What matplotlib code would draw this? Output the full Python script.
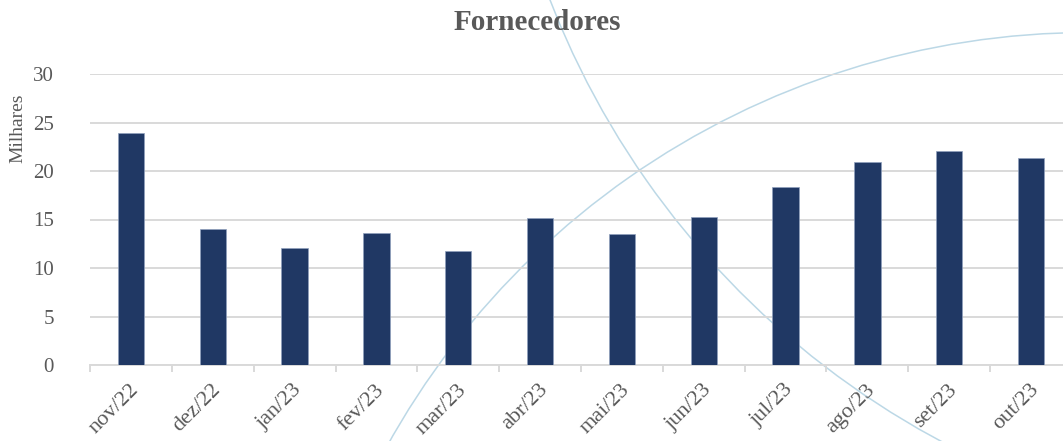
import matplotlib
matplotlib.use("Agg")
import matplotlib.pyplot as plt
from matplotlib.patches import Arc
from matplotlib.transforms import ScaledTranslation
import numpy as np

categories = ["nov/22", "dez/22", "jan/23", "fev/23", "mar/23", "abr/23",
              "mai/23", "jun/23", "jul/23", "ago/23", "set/23", "out/23"]
values = [23.9, 14.0, 12.1, 13.6, 11.75, 15.15, 13.5, 15.25, 18.35, 20.95, 22.1, 21.3]
yticks = [0, 5, 10, 15, 20, 25, 30]

TXT = "#595959"
BAR = "#203864"
GRID = "#d9d9d9"
ARC = "#bcd8e6"

plt.rcParams["font.family"] = ["Liberation Serif", "DejaVu Serif"]

W, H = 1063, 441
fig = plt.figure(figsize=(W / 100, H / 100), dpi=100)

# background decorative arcs in pixel coordinates
bg = fig.add_axes([0, 0, 1, 1], zorder=0)
bg.set_xlim(0, W)
bg.set_ylim(0, H)
bg.axis("off")
bg.add_patch(Arc((1089, -394), 2 * 802.5, 2 * 802.5, theta1=90, theta2=160,
                 color=ARC, lw=1.1))
bg.add_patch(Arc((1341, 748), 2 * 848.5, 2 * 848.5, theta1=180, theta2=250,
                 color=ARC, lw=1.1))

ax = fig.add_axes([90 / W, (H - 365) / H, 982 / W, 291 / H], zorder=1)
ax.patch.set_alpha(0)
x = np.arange(len(categories))
ax.bar(x, values, width=0.32, color=BAR, edgecolor="#8fa0bd", linewidth=0.5, zorder=3)

ax.set_xlim(-0.5, len(categories) - 0.5)
ax.set_ylim(0, 30)
ax.set_yticks(yticks)
ax.yaxis.grid(True, color=GRID, linewidth=1.4, zorder=0)
ax.set_axisbelow(True)
for s in ["top", "right", "left"]:
    ax.spines[s].set_visible(False)
ax.spines["bottom"].set_color(GRID)
ax.spines["bottom"].set_linewidth(1.4)

ax.tick_params(axis="y", length=0, pad=26, labelsize=15, labelcolor=TXT)
ax.set_xticks(x)
ax.set_xticklabels(categories)
ax.set_xticks(np.arange(-0.5, len(categories), 1), minor=True)
ax.tick_params(axis="x", which="major", length=0, pad=16, labelsize=16, labelcolor=TXT)
ax.tick_params(axis="x", which="minor", length=5, width=1.4, color=GRID)
offset = ScaledTranslation(5 / 100, 0, fig.dpi_scale_trans)
for lab in ax.get_xticklabels():
    lab.set_rotation(45)
    lab.set_rotation_mode("anchor")
    lab.set_ha("right")
    lab.set_va("center")
    lab.set_transform(lab.get_transform() + offset)

fig.text(18 / W, 1 - 128 / H, "Milhares", rotation=90, ha="center", va="center",
         fontsize=14, color=TXT)
fig.text(537 / W, 1 - 23 / H, "Fornecedores", ha="center", va="center",
         fontsize=21, fontweight="bold", color=TXT)

fig.savefig("out.png", dpi=100)
